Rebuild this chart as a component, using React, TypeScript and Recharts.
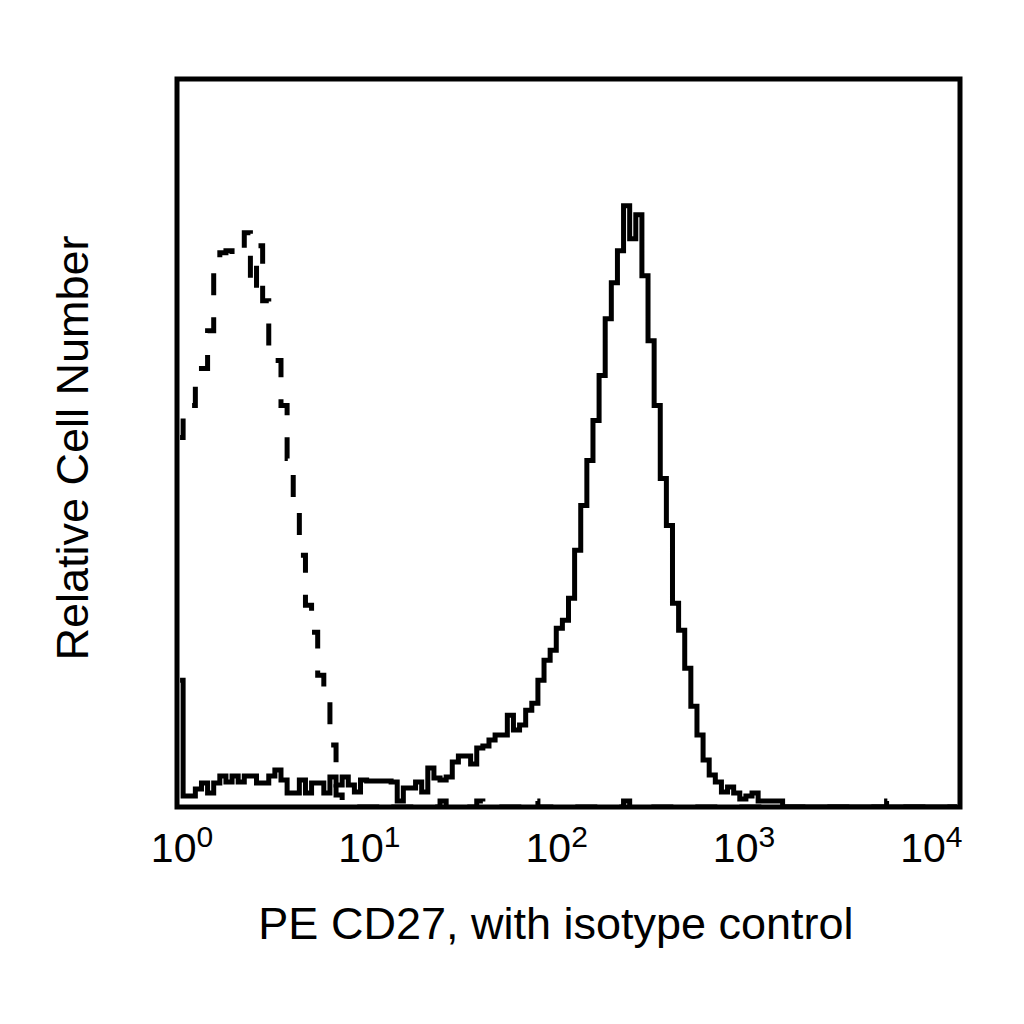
import React from 'react';
import { LineChart, Line, XAxis, YAxis, ReferenceArea, Label } from 'recharts';

// 128 log channels across four decades (32 channels per decade)
const cd27Counts = [
  127, 11, 11, 18, 24, 14, 24, 31, 25, 31, 25, 31, 31, 24, 24, 31,
  37, 27, 14, 14, 27, 14, 24, 24, 14, 30, 22, 30, 22, 15, 27, 26,
  26, 26, 26, 25, 6, 19, 19, 25, 15, 39, 29, 27, 30, 45, 51, 51,
  43, 59, 61, 67, 72, 72, 92, 77, 82, 97, 104, 127, 147, 157, 179, 187,
  209, 257, 302, 347, 387, 432, 489, 525, 557, 602, 569, 593, 532, 467, 402, 329,
  282, 204, 177, 139, 101, 72, 47, 32, 25, 15, 20, 14, 8, 11, 14, 6,
  6, 6, 6, 0, 0, 0, 0, 0, 0, 0, 0, 0, 0, 0, 0, 0,
  0, 0, 0, 0, 0, 0, 0, 0, 0, 0, 0, 0, 0, 0, 0, 0,
];

const isotypeCounts = [
  370, 392, 402, 422, 439, 477, 545, 555, 557, 552, 552, 575, 517, 562, 507, 462,
  447, 402, 349, 299, 252, 202, 175, 132, 107, 62, 12, 4, 0, 0, 0, 0,
  0, 0, 5, 0, 0, 0, 0, 0, 0, 0, 0, 6, 0, 0, 0, 0,
  0, 6, 0, 0, 0, 0, 0, 0, 0, 0, 6, 0, 0, 0, 0, 0,
  0, 0, 0, 0, 0, 0, 0, 0, 0, 6, 0, 0, 0, 0, 0, 0,
  0, 0, 0, 0, 0, 0, 0, 0, 0, 0, 0, 0, 0, 0, 0, 0,
  0, 0, 0, 0, 0, 0, 0, 0, 0, 0, 0, 0, 0, 0, 0, 0,
  0, 0, 0, 0, 6, 0, 0, 0, 0, 0, 0, 0, 0, 0, 0, 0,
];

const decadeTicks = [0, 32, 64, 96, 128];
const decadeExponents = ['0', '1', '2', '3', '4'];

const xTitle = 'PE CD27, with isotype control';
const yTitle = 'Relative Cell Number';

const data = cd27Counts.map((count, i) => ({
  channel: i + 0.5,
  cd27: count,
  isotype: isotypeCounts[i],
}));

const FONT = '"Liberation Sans", Arial, Helvetica, sans-serif';

// the original labels sit a little inboard of their ticks, more so on the right
const DecadeTick = ({ x, payload }: any) => {
  const idx = decadeTicks.indexOf(payload.value);
  const lx = 182 + (x - 177) * 0.957;
  return (
    <text x={lx} y={862} textAnchor="middle" fontFamily={FONT} fill="#000">
      <tspan fontSize={41}>10</tspan>
      <tspan fontSize={30} dy={-15}>{decadeExponents[idx]}</tspan>
    </text>
  );
};

// both axis titles drawn from the x axis label slot
const Titles = () => (
  <g>
    <text x={556} y={939} textAnchor="middle" fontFamily={FONT} fontSize={45} fill="#000">
      {xTitle}
    </text>
    <text
      x={88}
      y={448}
      textAnchor="middle"
      fontFamily={FONT}
      fontSize={45}
      fill="#000"
      transform="rotate(-90, 88, 448)"
    >
      {yTitle}
    </text>
  </g>
);

export default function App() {
  return (
    <div style={{ position: 'absolute', left: 0, top: 0, width: 1024, height: 1024, background: '#fff' }}>
      <LineChart
        width={1024}
        height={1024}
        data={data}
        margin={{ top: 79, right: 64, left: 177, bottom: 157 }}
      >
        <XAxis
          dataKey="channel"
          type="number"
          domain={[0, 128]}
          ticks={decadeTicks}
          interval={0}
          height={60}
          axisLine={false}
          tickLine={false}
          tick={<DecadeTick />}
          allowDataOverflow
        >
          <Label content={<Titles />} />
        </XAxis>
        <YAxis
          type="number"
          domain={[0, 729]}
          width={0}
          tick={false}
          tickLine={false}
          axisLine={false}
          allowDataOverflow
        />
        <Line
          dataKey="isotype"
          type="step"
          stroke="#000"
          strokeWidth={5}
          strokeDasharray="22 22"
          dot={false}
          isAnimationActive={false}
        />
        <Line
          dataKey="cd27"
          type="step"
          stroke="#000"
          strokeWidth={5}
          dot={false}
          isAnimationActive={false}
        />
        <ReferenceArea x1={0} x2={128} y1={0} y2={729} fill="none" stroke="#000" strokeWidth={5} />
      </LineChart>
    </div>
  );
}
